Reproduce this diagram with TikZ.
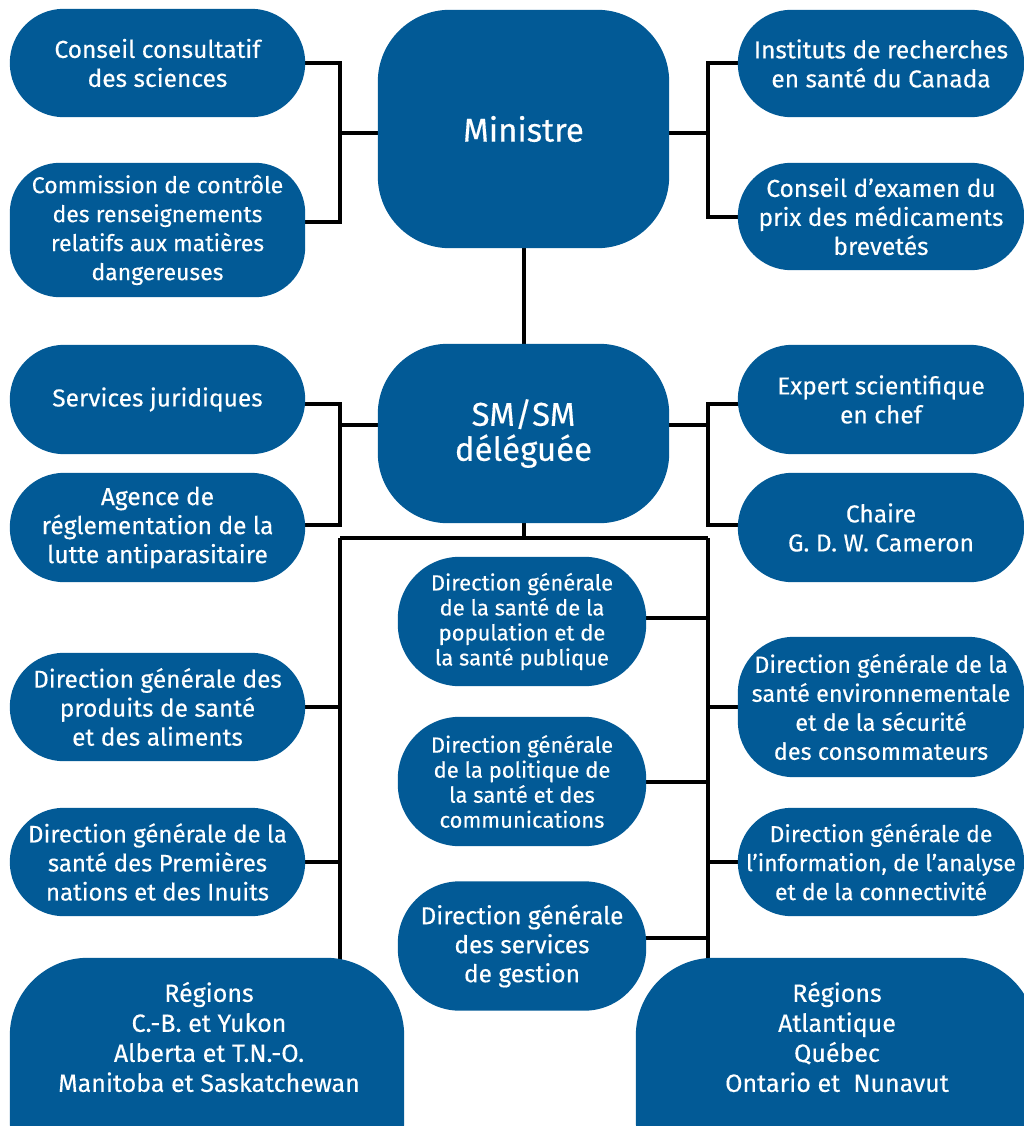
\documentclass[tikz,border=0pt]{standalone}
\usepackage{fontspec}
\setmainfont{Fira Sans}[FakeBold=0.3]
\usepackage{tikz}
\usetikzlibrary{positioning, backgrounds}
\definecolor{hcblue}{RGB}{2,90,150}

\begin{document}
\begin{tikzpicture}[x=1pt,y=-1pt,
        unit/.style={text=white,align=center,inner sep=1pt,font=\fontsize{24.5}{29}\selectfont},
        sidebox/.style={unit,minimum width=295pt},
        rightbox/.style={unit,minimum width=286pt},
        midbox/.style={unit,minimum width=248pt,minimum height=129pt},
        topbox/.style={unit,minimum width=291pt,font=\fontsize{33}{35}\selectfont},
        regbox/.style={minimum height=240pt},
        regtext/.style={unit,font=\fontsize{25}{30}\selectfont},
        link/.style={draw=black,line width=4pt}]
      \useasboundingbox (0,0) rectangle (1023,1126);

      \node[topbox,minimum height=238pt] (mini) at (523.5,129) {Ministre};
      \node[topbox,minimum height=179pt] (smsm) at (523.5,433.5) {SM/SM\\déléguée};

      \node[sidebox,minimum height=108pt] (cons) at (157.5,63) {Conseil consultatif\\des sciences};
      \node[sidebox,minimum height=134pt,font=\fontsize{23}{29}\selectfont] (comm) at (157.5,230) {Commission de contrôle\\des renseignements\\relatifs aux matières\\dangereuses};
      \node[rightbox,minimum height=107pt] (irsc) at (881,63.5) {Instituts de recherches\\en santé du Canada};
      \node[rightbox,minimum height=107pt] (cepmb) at (881,216.5) {Conseil d’examen du\\prix des médicaments\\brevetés};

      \node[sidebox,minimum height=109pt] (jur) at (157.5,399.5) {Services juridiques};
      \node[sidebox,minimum height=109pt] (arla) at (157.5,527.5) {Agence de\\réglementation de la\\lutte antiparasitaire};
      \node[rightbox,minimum height=109pt] (expert) at (881,399.5) {Expert scientifique\\en chef};
      \node[rightbox,minimum height=109pt] (chaire) at (881,527.5) {Chaire\\G. D. W. Cameron};

      \node[sidebox,minimum height=108pt] (dgpsa) at (157.5,707) {Direction générale des\\produits de santé\\et des aliments};
      \node[sidebox,minimum height=108pt,font=\fontsize{24}{29}\selectfont] (dgspni) at (157.5,862) {Direction générale de la\\santé des Premières\\nations et des Inuits};
      \node[rightbox,minimum height=140pt,font=\fontsize{23.5}{29}\selectfont] (dgsesc) at (881,707) {Direction générale de la\\santé environnementale\\et de la sécurité\\des consommateurs};
      \node[rightbox,minimum height=108pt,font=\fontsize{23}{29}\selectfont] (dgiac) at (881,862) {Direction générale de\\l’information, de l’analyse\\et de la connectivité};

      \node[midbox,font=\fontsize{22}{25}\selectfont] (dgspsp) at (522,621.5) {Direction générale\\de la santé de la\\population et de\\la santé publique};
      \node[midbox,font=\fontsize{22}{25}\selectfont] (dgpsc) at (522,781.5) {Direction générale\\de la politique de\\la santé et des\\communications};
      \node[midbox] (dgsg) at (522,946) {Direction générale\\des services\\de gestion};

      \node[regbox,minimum width=394pt] (regw) at (207,1078) {};
      \node[regbox,minimum width=400pt] (rege) at (836,1078) {};
      \node[regtext] (regwtxt) at (209,1037) {Régions\\C.-B. et Yukon\\Alberta et T.N.-O.\\Manitoba et Saskatchewan};
      \node[regtext] (regetxt) at (837,1037) {Régions\\Atlantique\\Québec\\Ontario et\ \ Nunavut};

      \coordinate (ltop) at (340,133);
      \coordinate (rtop) at (708,133);
      \coordinate (lmid) at (340,425);
      \coordinate (rmid) at (708,425);
      \coordinate (lrail) at (340,538);
      \coordinate (rrail) at (708,538);

      \begin{scope}[on background layer]
        \draw[link] (cons) -| (ltop) |- ([yshift=8pt]comm.center);
        \draw[link] (ltop) -- (ltop -| mini);
        \draw[link] (irsc) -| (rtop) |- (cepmb);
        \draw[link] (rtop) -- (rtop -| mini);
        \draw[link] (mini) -- (smsm);

        \draw[link] ([yshift=-4pt]jur.center) -| (lmid) |- ([yshift=3pt]arla.center);
        \draw[link] (lmid) -- (lmid -| smsm);
        \draw[link] ([yshift=-4pt]expert.center) -| (rmid) |- ([yshift=3pt]chaire.center);
        \draw[link] (rmid) -- (rmid -| smsm);

        \draw[link] (smsm) -- (smsm |- lrail);
        \draw[link] (lrail) -- (rrail);
        \draw[link] (lrail) -- (lrail |- regw.center);
        \draw[link] (rrail) -- (rrail |- rege.center);
        \draw[link] (dgpsa) -- (dgpsa -| lrail);
        \draw[link] (dgspni) -- (dgspni -| lrail);
        \draw[link] ([yshift=4pt]dgspsp.center) -- ([yshift=4pt]dgspsp.center -| rrail);
        \draw[link] (dgpsc) -- (dgpsc -| rrail);
        \draw[link] ([yshift=8pt]dgsg.center) -- ([yshift=8pt]dgsg.center -| rrail);
        \draw[link] (dgsesc) -- (dgsesc -| rrail);
        \draw[link] (dgiac) -- (dgiac -| rrail);

        \foreach \n/\r in {mini/72, smsm/70, cons/54, comm/50, irsc/53.5, cepmb/53.5,
            jur/54.5, arla/54.5, expert/54.5, chaire/54.5, dgpsa/54, dgspni/54,
            dgsesc/56, dgiac/54, dgspsp/62, dgpsc/62, dgsg/62, regw/78, rege/78}
          \fill[hcblue] ([xshift=\r pt]\n.north west) -- ([xshift=-\r pt]\n.north east)
              arc[start angle=90,end angle=0,radius=\r pt] -- ([yshift=\r pt]\n.south east)
              arc[start angle=0,end angle=-90,radius=\r pt] -- ([xshift=\r pt]\n.south west)
              arc[start angle=270,end angle=180,radius=\r pt] -- ([yshift=-\r pt]\n.north west)
              arc[start angle=180,end angle=90,radius=\r pt] -- cycle;
      \end{scope}
    \end{tikzpicture}
\end{document}
